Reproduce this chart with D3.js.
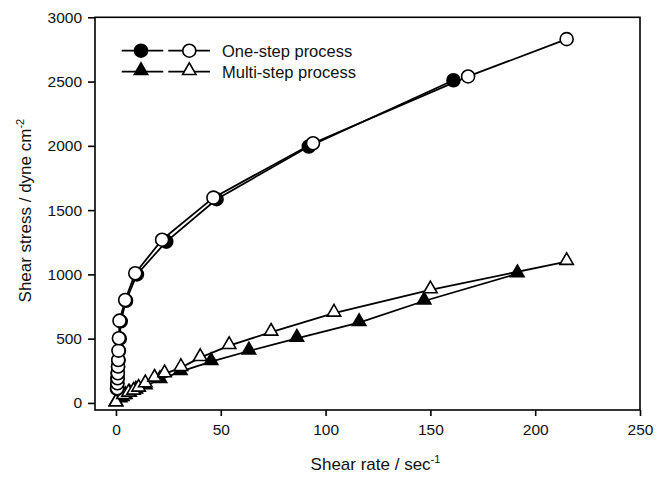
<!DOCTYPE html>
<html>
<head>
<meta charset="utf-8">
<script src="https://cdn.jsdelivr.net/npm/d3@7"></script>
<style>
  html, body { margin: 0; padding: 0; background: #fff; }
  svg { display: block; font-family: "Liberation Sans", Arial, sans-serif; }
</style>
</head>
<body>
<svg id="chart" width="668" height="478"></svg>
<script>
// ---- data ----
const xTicks = [0, 50, 100, 150, 200, 250];
const yTicks = [0, 500, 1000, 1500, 2000, 2500, 3000];

const oneStepFilledX = [0.5, 0.6, 0.7, 0.8, 1.0, 1.2, 1.4, 1.8, 2.3, 4.8, 10, 24, 48, 92, 161];
const oneStepFilledY = [110, 150, 190, 230, 280, 330, 405, 500, 635, 795, 1000, 1255, 1585, 1995, 2510];

const oneStepOpenX = [0.6, 0.7, 0.8, 0.9, 1.0, 1.1, 1.2, 1.4, 1.7, 4.4, 9.2, 22, 46.5, 94, 168, 215];
const oneStepOpenY = [114, 153, 192, 231, 283, 334, 407, 503, 640, 801, 1009, 1270, 1597, 2020, 2540, 2830];

const multiFilledX = [0, 2, 3, 4.5, 6.5, 9.5, 14, 21, 30.7, 45.4, 63.4, 86.3, 116, 147, 191.5];
const multiFilledY = [0, 31, 42, 57, 75, 100, 134, 182, 243, 321, 404, 503, 625, 793, 1005];

const multiOpenX = [0, 3.6, 6, 8.4, 10.8, 14, 18.4, 23.2, 31, 40.2, 54, 74, 104, 150, 215];
const multiOpenY = [0, 57, 75, 91, 114, 148, 192, 226, 275, 352, 446, 550, 698, 879, 1100];

const legendLabels = ["One-step process", "Multi-step process"];

// ---- layout ----
const svg = d3.select("#chart");
const pLeft = 95, pRight = 640, pTop = 17.3, pBottom = 410;

const x = d3.scaleLinear().domain([-10, 250]).range([pLeft, pRight]);
const y = d3.scaleLinear().domain([-55, 3000]).range([pBottom, pTop]);

const zip = (a, b) => a.map((v, i) => [v, b[i]]);

// frame
svg.append("rect")
  .attr("x", pLeft).attr("y", pTop)
  .attr("width", pRight - pLeft).attr("height", pBottom - pTop)
  .attr("fill", "none").attr("stroke", "#000").attr("stroke-width", 1.6);

// axes
const xAxis = svg.append("g").attr("transform", `translate(0,${pBottom})`)
  .call(d3.axisBottom(x).tickValues(xTicks).tickSize(6).tickPadding(8).tickFormat(d3.format("d")));
const yAxis = svg.append("g").attr("transform", `translate(${pLeft},0)`)
  .call(d3.axisLeft(y).tickValues(yTicks).tickSize(7).tickPadding(6).tickFormat(d3.format("d")));
[xAxis, yAxis].forEach(a => {
  a.select(".domain").remove();
  a.selectAll(".tick line").attr("stroke", "#000").attr("stroke-width", 1.6);
  a.selectAll(".tick text").attr("fill", "#111").style("font-size", "15.5px")
    .style("font-family", "'Liberation Sans', Arial, sans-serif");
});

// axis titles
const xt = svg.append("text")
  .attr("x", (pLeft + pRight) / 2 + 8).attr("y", 470)
  .attr("text-anchor", "middle").style("font-size", "17px").attr("fill", "#111");
xt.append("tspan").text("Shear rate / sec");
xt.append("tspan").text("-1").attr("dy", -7).style("font-size", "11px");

const yt = svg.append("text")
  .attr("transform", `translate(31,${(pTop + pBottom) / 2 - 3}) rotate(-90)`)
  .attr("text-anchor", "middle").style("font-size", "17px").attr("fill", "#111");
yt.append("tspan").text("Shear stress / dyne cm");
yt.append("tspan").text("-2").attr("dy", -7).style("font-size", "11px");

// marks
const line = d3.line().x(d => x(d[0])).y(d => y(d[1]));
const circleR = 6.5;
const tri = d3.symbol().type(d3.symbolTriangle).size(78);

function drawSeries(pts, kind, filled) {
  svg.append("path").datum(pts).attr("d", line)
    .attr("fill", "none").attr("stroke", "#000").attr("stroke-width", 1.8);
  const g = svg.append("g");
  if (kind === "circle") {
    g.selectAll("circle").data(pts).join("circle")
      .attr("cx", d => x(d[0])).attr("cy", d => y(d[1])).attr("r", circleR)
      .attr("fill", filled ? "#000" : "#fff").attr("stroke", "#000").attr("stroke-width", 1.6);
  } else {
    g.selectAll("path").data(pts).join("path")
      .attr("d", tri)
      .attr("transform", d => `translate(${x(d[0])},${y(d[1]) - 1})`)
      .attr("fill", filled ? "#000" : "#fff").attr("stroke", "#000").attr("stroke-width", 1.6);
  }
}

drawSeries(zip(multiFilledX, multiFilledY), "tri", true);
drawSeries(zip(multiOpenX, multiOpenY), "tri", false);
drawSeries(zip(oneStepFilledX, oneStepFilledY), "circle", true);
drawSeries(zip(oneStepOpenX, oneStepOpenY), "circle", false);

// legend
const legRows = [
  { label: legendLabels[0], kind: "circle", y: 50.7 },
  { label: legendLabels[1], kind: "tri", y: 71.7 }
];
legRows.forEach(r => {
  [[121.7, 163.3, 141, true], [168.3, 210, 189.3, false]].forEach(([x1, x2, cx, filled]) => {
    svg.append("line").attr("x1", x1).attr("x2", x2).attr("y1", r.y).attr("y2", r.y)
      .attr("stroke", "#000").attr("stroke-width", 1.8);
    if (r.kind === "circle") {
      svg.append("circle").attr("cx", cx).attr("cy", r.y).attr("r", circleR)
        .attr("fill", filled ? "#000" : "#fff").attr("stroke", "#000").attr("stroke-width", 1.6);
    } else {
      svg.append("path").attr("d", tri).attr("transform", `translate(${cx},${r.y - 1})`)
        .attr("fill", filled ? "#000" : "#fff").attr("stroke", "#000").attr("stroke-width", 1.6);
    }
  });
  svg.append("text").attr("x", 222).attr("y", r.y + 6)
    .style("font-size", "16.5px").attr("fill", "#111").text(r.label);
});
</script>
</body>
</html>
